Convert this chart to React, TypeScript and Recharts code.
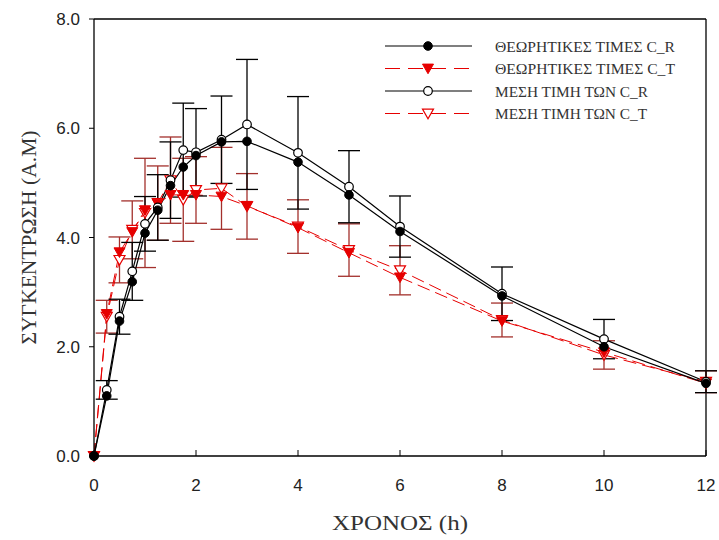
import React from 'react';
import {
  ComposedChart, Line, XAxis, YAxis, ErrorBar, Legend, ReferenceLine,
} from 'recharts';

const times = [0, 0.25, 0.5, 0.75, 1, 1.25, 1.5, 1.75, 2, 2.5, 3, 4, 5, 6, 8, 10, 12];
const theoR = [0, 1.1, 2.47, 3.19, 4.08, 4.5, 4.95, 5.29, 5.5, 5.75, 5.76, 5.38, 4.78, 4.11, 2.93, 2.0, 1.33];
const theoT = [0, 2.6, 3.73, 4.1, 4.5, 4.62, 4.78, 4.78, 4.78, 4.75, 4.58, 4.18, 3.72, 3.27, 2.47, 1.9, 1.33];
const meanR = [0, 1.21, 2.55, 3.38, 4.25, 4.55, 5.05, 5.6, 5.56, 5.79, 6.07, 5.55, 4.93, 4.2, 2.97, 2.14, 1.36];
const sdR = [0, 0.17, 0.32, 0.53, 0.5, 0.6, 0.7, 0.86, 0.8, 0.8, 1.19, 1.03, 0.66, 0.56, 0.49, 0.36, 0.2];
const meanT = [0, 2.55, 3.59, 4.14, 4.45, 4.63, 5.05, 4.69, 4.87, 4.9, 4.57, 4.2, 3.77, 3.4, 2.49, 1.85, 1.36];
const sdT = [0, 0.3, 0.42, 0.53, 1.0, 0.68, 0.79, 0.76, 0.61, 0.75, 0.6, 0.49, 0.48, 0.45, 0.31, 0.26, 0.2];

const xTicks = [0, 2, 4, 6, 8, 10, 12];
const yTicks = [0, 2, 4, 6, 8];

const seriesNames = [
  'ΘΕΩΡΗΤΙΚΕΣ ΤΙΜΕΣ C_R',
  'ΘΕΩΡΗΤΙΚΕΣ ΤΙΜΕΣ C_T',
  'ΜΕΣΗ ΤΙΜΗ ΤΩΝ C_R',
  'ΜΕΣΗ ΤΙΜΗ ΤΩΝ C_T',
];

const data = times.map((t, i) => ({
  t,
  theoR: theoR[i],
  theoT: theoT[i],
  meanR: meanR[i],
  sdR: sdR[i],
  meanT: meanT[i],
  sdT: sdT[i],
}));

const RED = '#e60000';
const RED_ERR = '#a3302c';
const DASH = '13 6';
const SERIF = "'Liberation Serif', 'Times New Roman', serif";
const SANS = "'Liberation Sans', Arial, sans-serif";

const Marker = ({ cx, cy, kind }: { cx: number; cy: number; kind: number }) => {
  if (cx == null || cy == null) return null;
  if (kind === 0) return <circle cx={cx} cy={cy} r={4.3} fill="#000" stroke="#000" strokeWidth={1} />;
  if (kind === 2) return <circle cx={cx} cy={cy} r={4.3} fill="#fff" stroke="#000" strokeWidth={1.2} />;
  const s = 5.5;
  const pts = `${cx - s},${cy - s * 0.8} ${cx + s},${cy - s * 0.8} ${cx},${cy + s * 0.95}`;
  if (kind === 1) return <polygon points={pts} fill={RED} stroke={RED} strokeWidth={1} />;
  return <polygon points={pts} fill="#fff" stroke={RED} strokeWidth={1.2} />;
};

const dotFor = (kind: number) => (p: any) => (
  <Marker key={`m${kind}-${p.index}`} cx={p.cx} cy={p.cy} kind={kind} />
);

const legendWidths = [180, 180, 153, 152];

const renderLegend = () => (
  <svg width={330} height={90} style={{ display: 'block' }}>
    {seriesNames.map((name, i) => {
      const y = 11 + i * 22.5;
      const red = i % 2 === 1;
      return (
        <g key={name}>
          <line x1={5} x2={92} y1={y} y2={y} stroke={red ? RED : '#000'} strokeWidth={1.2}
            strokeDasharray={red ? '15 8' : undefined} />
          <Marker cx={48} cy={y} kind={i} />
          <text x={115} y={y + 5.5} fontFamily={SERIF} fontSize={15.5} fill="#333"
            textLength={legendWidths[i]} lengthAdjust="spacingAndGlyphs">{name}</text>
        </g>
      );
    })}
  </svg>
);

const YLabel = (props: any) => {
  const vb = props.viewBox || {};
  const cx = 31;
  const cy = (vb.y || 19) + (vb.height || 437) / 2;
  return (
    <text x={cx} y={cy} transform={`rotate(-90, ${cx}, ${cy})`} textAnchor="middle" dominantBaseline="middle"
      fontFamily={SERIF} fontSize={20} fill="#333" textLength={214} lengthAdjust="spacingAndGlyphs">ΣΥΓΚΕΝΤΡΩΣΗ (Α.Μ)</text>
  );
};

const XLabel = (props: any) => {
  const vb = props.viewBox || {};
  const cx = (vb.x || 94) + (vb.width || 612) / 2;
  const cy = (vb.y || 456) + 74;
  return (
    <text x={cx} y={cy} textAnchor="middle" fontFamily={SERIF} fontSize={21} fill="#333"
      textLength={136} lengthAdjust="spacingAndGlyphs">ΧΡΟΝΟΣ (h)</text>
  );
};

export default function App() {
  return (
    <div style={{ position: 'absolute', left: 0, top: 0, width: 719, height: 540, background: '#fff' }}>
      <ComposedChart width={719} height={540} data={data}
        margin={{ top: 19, right: 13, bottom: 0, left: 0 }}>
        <XAxis dataKey="t" type="number" domain={[0, 12]} ticks={xTicks} height={84}
          axisLine={{ stroke: '#000', strokeWidth: 1.3 }}
          tickLine={{ stroke: '#000', strokeWidth: 1 }} tickSize={-6} tickMargin={29}
          tick={{ fill: '#222', fontSize: 17, fontFamily: SANS }}
          label={<XLabel />} interval={0} />
        <YAxis type="number" domain={[0, 8]} ticks={yTicks} width={94}
          axisLine={{ stroke: '#000', strokeWidth: 1.3 }}
          tickLine={{ stroke: '#000', strokeWidth: 1 }} tickSize={5} tickMargin={9}
          tickFormatter={(v: number) => v.toFixed(1)}
          tick={{ fill: '#222', fontSize: 17, fontFamily: SANS }}
          label={<YLabel />} interval={0} />
        <ReferenceLine y={8} stroke="#000" strokeWidth={1.3} />
        <ReferenceLine x={12} stroke="#000" strokeWidth={1.3} />
        <Line dataKey="meanT" name={seriesNames[3]} stroke={RED} strokeWidth={1} strokeDasharray={DASH}
          dot={dotFor(3)} activeDot={false} isAnimationActive={false}>
          <ErrorBar dataKey="sdT" width={11} stroke={RED_ERR} strokeWidth={1.3} direction="y" />
        </Line>
        <Line dataKey="theoT" name={seriesNames[1]} stroke={RED} strokeWidth={1} strokeDasharray={DASH}
          dot={dotFor(1)} activeDot={false} isAnimationActive={false} />
        <Line dataKey="meanR" name={seriesNames[2]} stroke="#000" strokeWidth={1.2}
          dot={dotFor(2)} activeDot={false} isAnimationActive={false}>
          <ErrorBar dataKey="sdR" width={11} stroke="#000" strokeWidth={1.3} direction="y" />
        </Line>
        <Line dataKey="theoR" name={seriesNames[0]} stroke="#000" strokeWidth={1.2}
          dot={dotFor(0)} activeDot={false} isAnimationActive={false} />
        <Legend content={renderLegend} layout="horizontal" verticalAlign="middle" align="center"
          wrapperStyle={{ position: 'absolute', left: 380, top: 35, width: 330, height: 90 }} />
      </ComposedChart>
    </div>
  );
}
